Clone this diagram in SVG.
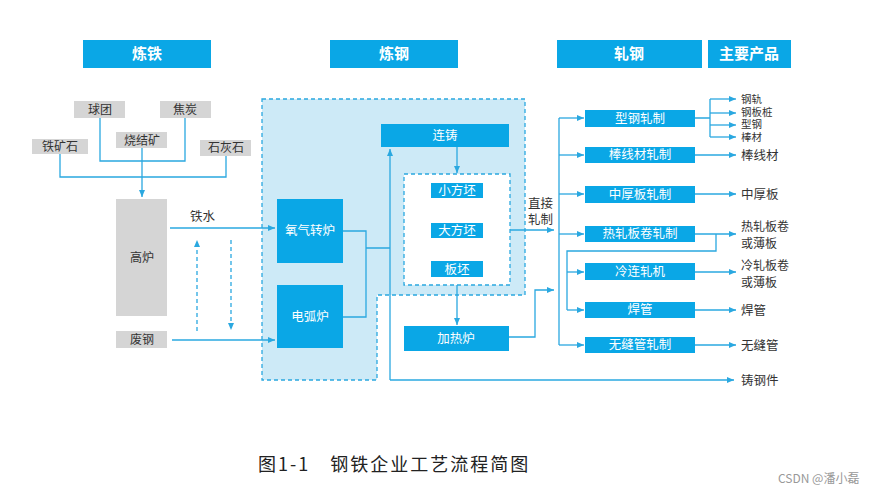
<svg xmlns="http://www.w3.org/2000/svg" width="876" height="493" viewBox="0 0 876 493">
<style>
text{font-family:"Noto Sans CJK SC","Noto Sans",sans-serif;}
.hb{fill:#0aa7e6}.ht{fill:#fff;font-size:15px;font-weight:bold;text-anchor:middle}
.g{fill:#d5d5d5}.gt{fill:#333;font-size:12px;text-anchor:middle}
.b{fill:#0aa7e6}.bt{fill:#fff;font-size:12.5px;text-anchor:middle}
.o{fill:#333;font-size:12.5px}
.m{fill:#333;font-size:12px}
.s{fill:#333;font-size:10.5px}
.l{fill:none;stroke:#2aa8e0;stroke-width:1.3}
.d{fill:none;stroke:#2aa8e0;stroke-width:1.3;stroke-dasharray:4 3}
</style>
<defs><marker id="a" markerWidth="8" markerHeight="8" refX="7" refY="4" orient="auto" markerUnits="userSpaceOnUse"><path d="M0,1 L7,4 L0,7z" fill="#2aa8e0"/></marker></defs>
<g id="headers">
<rect class="hb" x="83" y="40" width="128" height="28"/><text class="ht" x="147" y="59">炼铁</text>
<rect class="hb" x="330" y="40" width="128" height="28"/><text class="ht" x="394" y="59">炼钢</text>
<rect class="hb" x="557" y="40" width="145" height="28"/><text class="ht" x="629" y="59">轧钢</text>
<rect class="hb" x="708" y="40" width="83" height="28"/><text class="ht" x="749" y="59">主要产品</text>
</g>
<path id="region" d="M262,99 H525 V295 H377 V380 H262 Z" fill="#cdeaf7" stroke="#2aa8e0" stroke-width="1.3" stroke-dasharray="4 3"/>
<rect id="billets" x="404" y="174" width="106" height="111" fill="#fff" stroke="#2aa8e0" stroke-width="1.3" stroke-dasharray="4 3"/>
<g id="connectors">
<path class="l" d="M100,118 V161 H185 V118"/>
<path class="l" d="M60,154 V177 H226 V156"/>
<path class="l" d="M142,148 V197" marker-end="url(#a)"/>
<path class="l" d="M170,228 H275" marker-end="url(#a)"/>
<path class="l" d="M172,340 H275" marker-end="url(#a)"/>
<path class="d" d="M197,331 V240" marker-end="url(#a)"/>
<path class="d" d="M231,240 V330" marker-end="url(#a)"/>
<path class="l" d="M343,231 H366 V317 H343 M366,248 H390"/>
<path class="l" d="M390,380 V149" marker-end="url(#a)"/>
<path class="l" d="M390,380 H734" marker-end="url(#a)"/>
<path class="l" d="M457,147 V173" marker-end="url(#a)"/>
<path class="l" d="M510,230 H554" marker-end="url(#a)"/>
<path class="l" d="M457,285 V325" marker-end="url(#a)"/>
<path class="l" d="M509,337 H535 V290 H554" marker-end="url(#a)"/>
<path class="l" d="M559,118 V345"/>
<path class="l" d="M559,118 H584" marker-end="url(#a)"/>
<path class="l" d="M559,155 H584" marker-end="url(#a)"/>
<path class="l" d="M559,194 H584" marker-end="url(#a)"/>
<path class="l" d="M559,234 H584" marker-end="url(#a)"/>
<path class="l" d="M559,345 H584" marker-end="url(#a)"/>
<path class="l" d="M716,234 V251 H567 V310"/>
<path class="l" d="M567,272 H584" marker-end="url(#a)"/>
<path class="l" d="M567,310 H584" marker-end="url(#a)"/>
<path class="l" d="M695,118 H710 M710,99 V137"/>
<path class="l" d="M710,99 H736" marker-end="url(#a)"/>
<path class="l" d="M710,113 H736" marker-end="url(#a)"/>
<path class="l" d="M710,125 H736" marker-end="url(#a)"/>
<path class="l" d="M710,137 H736" marker-end="url(#a)"/>
<path class="l" d="M695,155 H736" marker-end="url(#a)"/>
<path class="l" d="M695,194 H736" marker-end="url(#a)"/>
<path class="l" d="M695,234 H736" marker-end="url(#a)"/>
<path class="l" d="M695,272 H736" marker-end="url(#a)"/>
<path class="l" d="M695,310 H736" marker-end="url(#a)"/>
<path class="l" d="M695,345 H736" marker-end="url(#a)"/>
</g>
<g id="n-qiutuan"><rect class="g" x="74" y="101" width="51" height="17"/><text class="gt" x="100" y="114">球团</text></g>
<g id="n-jiaotan"><rect class="g" x="160" y="101" width="51" height="17"/><text class="gt" x="185" y="114">焦炭</text></g>
<g id="n-shaojie"><rect class="g" x="116" y="132" width="51" height="16"/><text class="gt" x="142" y="145">烧结矿</text></g>
<g id="n-tiekuang"><rect class="g" x="32" y="139" width="56" height="15"/><text class="gt" x="60" y="151">铁矿石</text></g>
<g id="n-shihui"><rect class="g" x="200" y="140" width="51" height="16"/><text class="gt" x="226" y="152">石灰石</text></g>
<g id="n-gaolu"><rect class="g" x="116" y="199" width="51" height="117"/><text class="gt" x="142" y="262">高炉</text></g>
<g id="n-feigang"><rect class="g" x="116" y="331" width="51" height="17"/><text class="gt" x="142" y="344">废钢</text></g>
<text class="o" x="190" y="221">铁水</text>
<g id="n-yangqi"><rect class="b" x="277" y="199" width="66" height="64"/><text class="bt" x="310" y="235">氧气转炉</text></g>
<g id="n-dianhu"><rect class="b" x="277" y="285" width="66" height="63"/><text class="bt" x="310" y="321">电弧炉</text></g>
<g id="n-lianzhu"><rect class="b" x="381" y="124" width="128" height="23"/><text class="bt" x="445" y="140">连铸</text></g>
<g id="n-xiao"><rect class="b" x="431" y="183" width="52" height="15"/><text class="bt" x="457" y="195">小方坯</text></g>
<g id="n-da"><rect class="b" x="431" y="223" width="52" height="15"/><text class="bt" x="457" y="235">大方坯</text></g>
<g id="n-ban"><rect class="b" x="431" y="261" width="52" height="16"/><text class="bt" x="457" y="274">板坯</text></g>
<g id="n-jiare"><rect class="b" x="404" y="326" width="105" height="25"/><text class="bt" x="456" y="343">加热炉</text></g>
<text class="o" x="528" y="208">直接</text><text class="o" x="528" y="224">轧制</text>
<g id="n-xinggang"><rect class="b" x="585" y="110" width="110" height="17"/><text class="bt" x="640" y="123">型钢轧制</text></g>
<g id="n-bangxian"><rect class="b" x="585" y="147" width="110" height="16"/><text class="bt" x="640" y="159">棒线材轧制</text></g>
<g id="n-zhonghou"><rect class="b" x="585" y="186" width="110" height="17"/><text class="bt" x="640" y="199">中厚板轧制</text></g>
<g id="n-rezha"><rect class="b" x="585" y="226" width="110" height="16"/><text class="bt" x="640" y="238">热轧板卷轧制</text></g>
<g id="n-lenglian"><rect class="b" x="585" y="263" width="110" height="17"/><text class="bt" x="640" y="276">冷连轧机</text></g>
<g id="n-hanguan"><rect class="b" x="585" y="302" width="110" height="16"/><text class="bt" x="640" y="314">焊管</text></g>
<g id="n-wufeng"><rect class="b" x="585" y="337" width="110" height="16"/><text class="bt" x="640" y="349">无缝管轧制</text></g>
<g id="products">
<text class="s" x="741" y="103">钢轨</text><text class="s" x="741" y="116">钢板桩</text><text class="s" x="741" y="128">型钢</text><text class="s" x="741" y="141">棒材</text>
<text class="o" x="741" y="160">棒线材</text><text class="o" x="741" y="199">中厚板</text>
<text class="m" x="741" y="231">热轧板卷</text><text class="m" x="741" y="248">或薄板</text>
<text class="m" x="741" y="270">冷轧板卷</text><text class="m" x="741" y="287">或薄板</text>
<text class="o" x="741" y="315">焊管</text><text class="o" x="741" y="350">无缝管</text><text class="o" x="741" y="385">铸钢件</text>
</g>
<text x="258" y="471" style="font-family:'Noto Sans CJK SC',sans-serif;font-size:18px;letter-spacing:2px;fill:#222">图1-1　钢铁企业工艺流程简图</text>
<text x="778" y="483" style="font-size:12px;fill:#999">CSDN @潘小磊</text>
</svg>
